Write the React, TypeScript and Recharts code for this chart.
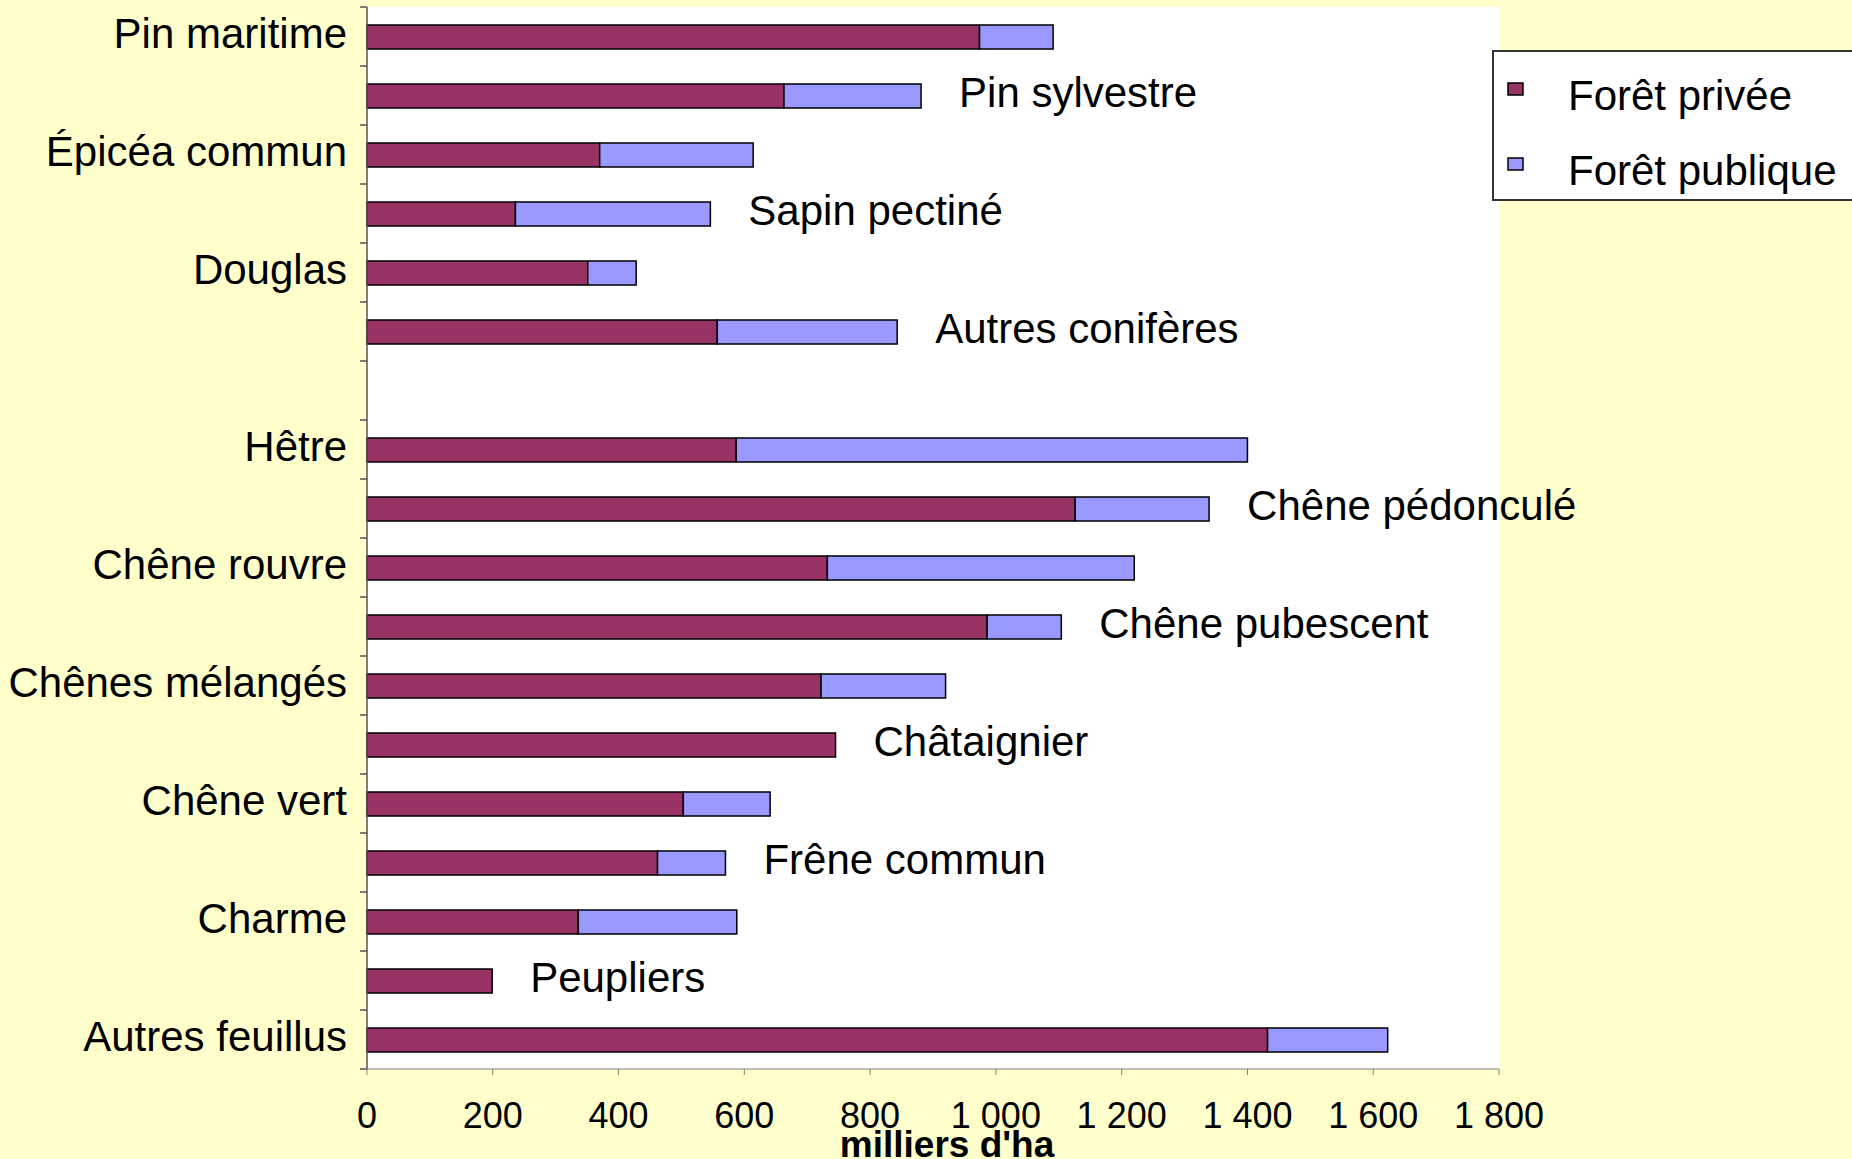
import React from "react";
import { BarChart, Bar, XAxis, YAxis, CartesianGrid, Legend, LabelList, Label } from "recharts";

// surfaces in thousands of hectares
const conifers = ["Pin maritime", "Pin sylvestre", "Épicéa commun", "Sapin pectiné", "Douglas", "Autres conifères"];
const privateConifers = [974, 663, 370, 236, 351, 557];
const publicConifers = [117, 218, 244, 310, 77, 286];

const broadleaves = [
  "Hêtre", "Chêne pédonculé", "Chêne rouvre", "Chêne pubescent", "Chênes mélangés", "Châtaignier",
  "Chêne vert", "Frêne commun", "Charme", "Peupliers", "Autres feuillus",
];
const privateBroadleaves = [587, 1126, 732, 986, 722, 745, 503, 462, 336, 199, 1432];
const publicBroadleaves = [813, 213, 488, 118, 198, 0, 138, 108, 252, 0, 191];

const xTicks = [0, 200, 400, 600, 800, 1000, 1200, 1400, 1600, 1800];

const W = 1852;
const H = 1159;
const AXIS_X = 367;
const TOP = 7;
const BOTTOM = 1069;
const FONT = "'Liberation Sans', Arial, sans-serif";

// labels alternate left / right inside each group
const group = (names: string[], priv: number[], pub: number[]) =>
  names.map((name, i) => ({ name, priv: priv[i], pub: pub[i], left: i % 2 === 0 }));

const data = [
  ...group(conifers, privateConifers, publicConifers),
  { name: "", priv: null, pub: null, left: false },
  ...group(broadleaves, privateBroadleaves, publicBroadleaves),
];

const SLOT = (BOTTOM - TOP) / data.length;
const leftNames = new Set(data.filter((d) => d.left).map((d) => d.name));
const rightNames = new Set(data.filter((d) => !d.left && d.name).map((d) => d.name));
// rows with no public forest get their label from the private bar
const noPublic = new Set(data.filter((d) => d.name && !d.pub).map((d) => d.name));

const fmt = (v: number) => String(v).replace(/\B(?=(\d{3})+(?!\d))/g, " ");

const SpeciesTick = (props: any) => {
  const { y, payload, index } = props;
  const edge = y + SLOT / 2;
  return (
    <g>
      {index === 0 && (
        <line x1={AXIS_X - 7} x2={AXIS_X} y1={y - SLOT / 2} y2={y - SLOT / 2} stroke="#555" strokeWidth={1.5} />
      )}
      <line x1={AXIS_X - 7} x2={AXIS_X} y1={edge} y2={edge} stroke="#555" strokeWidth={1.5} />
      {leftNames.has(payload.value) && (
        <text x={AXIS_X - 20} y={y} dy={11} textAnchor="end" fontSize={42} fill="#000" fontFamily={FONT}>
          {payload.value}
        </text>
      )}
    </g>
  );
};

const rightLabel = (fromPrivate: boolean) => (props: any) => {
  const { x, y, width, height, value } = props;
  if (!rightNames.has(value)) return null;
  if (noPublic.has(value) !== fromPrivate) return null;
  return (
    <text x={x + width + 38} y={y + height / 2} dy={11} fontSize={42} fill="#000" fontFamily={FONT}>
      {value}
    </text>
  );
};

const LegendBox = ({ payload }: any) => (
  <div style={{ width: 400, height: 151, background: "#fff", border: "2px solid #333", boxSizing: "border-box" }}>
    <svg width={400} height={147}>
      {(payload || []).map((p: any, i: number) => (
        <g key={p.value}>
          <rect x={14} y={31 + i * 75} width={15} height={12} fill={p.color} stroke="#000" strokeWidth={1.5} />
          <text x={74} y={58 + i * 75} fontSize={42} fill="#000" fontFamily={FONT}>{p.value}</text>
        </g>
      ))}
    </svg>
  </div>
);

export default function App() {
  return (
    <div style={{ position: "fixed", left: 0, top: 0, width: W, height: H, background: "#FFFFCC", overflow: "hidden" }}>
      <BarChart
        width={W}
        height={H}
        data={data}
        layout="vertical"
        barSize={24}
        margin={{ top: TOP, right: W - 1499, bottom: 0, left: 0 }}
        style={{ fontFamily: FONT }}
      >
        <CartesianGrid horizontal={false} vertical={false} fill="#ffffff" fillOpacity={1} stroke="none" />
        <XAxis
          type="number"
          domain={[0, 1800]}
          ticks={xTicks}
          height={H - BOTTOM}
          tickFormatter={fmt}
          stroke="#808080"
          tickSize={6}
          tickMargin={27}
          tick={{ fill: "#000", fontSize: 36, fontFamily: FONT }}
        >
          <Label
            value="milliers d'ha"
            position="insideBottom"
            offset={2}
            dx={14}
            style={{ fontSize: 37, fontWeight: "bold", fill: "#000", fontFamily: FONT }}
          />
        </XAxis>
        <YAxis
          type="category"
          dataKey="name"
          width={AXIS_X}
          interval={0}
          tickLine={false}
          stroke="#555"
          axisLine={{ stroke: "#555", strokeWidth: 1.5 }}
          tick={<SpeciesTick />}
        />
        <Legend
          layout="vertical"
          align="center"
          verticalAlign="middle"
          content={<LegendBox />}
          wrapperStyle={{ left: 1492, top: 50, width: 400, height: 151 }}
        />
        <Bar dataKey="priv" name="Forêt privée" stackId="a" fill="#993366" stroke="#000" strokeWidth={1.5} isAnimationActive={false}>
          <LabelList dataKey="name" content={rightLabel(true)} />
        </Bar>
        <Bar dataKey="pub" name="Forêt publique" stackId="a" fill="#9999FF" stroke="#000" strokeWidth={1.5} isAnimationActive={false}>
          <LabelList dataKey="name" content={rightLabel(false)} />
        </Bar>
      </BarChart>
    </div>
  );
}
